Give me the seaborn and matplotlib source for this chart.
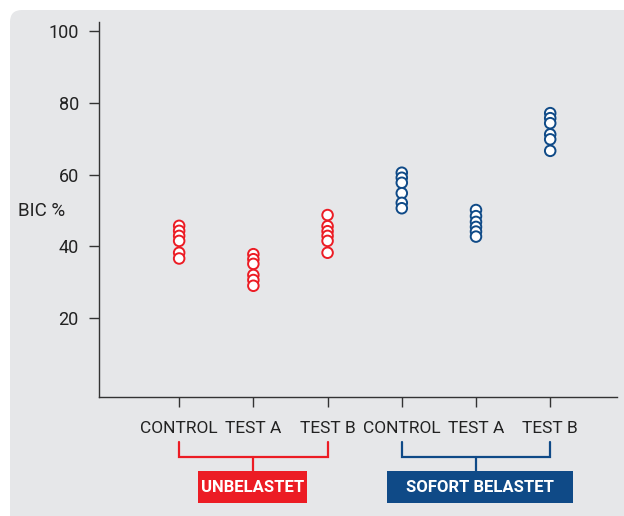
import matplotlib
matplotlib.use("Agg")
import matplotlib.pyplot as plt
import matplotlib.transforms as mtransforms
from matplotlib.patches import FancyBboxPatch, Rectangle
import seaborn as sns
import pandas as pd

# --- data ---
groups = ["UNBELASTET", "SOFORT BELASTET"]
conditions = ["CONTROL", "TEST A", "TEST B"]
unbelastet_control = [45.7, 44.3, 42.9, 41.5, 38.2, 36.6]
unbelastet_test_a = [37.8, 36.4, 35.1, 32.0, 30.6, 29.0]
unbelastet_test_b = [48.7, 45.6, 44.2, 42.9, 41.5, 38.2]
sofort_control = [60.5, 59.1, 57.7, 54.8, 52.1, 50.6]
sofort_test_a = [50.1, 48.4, 46.8, 45.4, 44.1, 42.7]
sofort_test_b = [77.1, 75.7, 74.3, 71.2, 69.8, 66.6]
y_ticks = [20, 40, 60, 80, 100]

RED = "#ec1c24"
BLUE = "#0f4a87"
BG = "#e6e7e9"
INK = "#333333"

series = {
    ("UNBELASTET", "CONTROL"): unbelastet_control,
    ("UNBELASTET", "TEST A"): unbelastet_test_a,
    ("UNBELASTET", "TEST B"): unbelastet_test_b,
    ("SOFORT BELASTET", "CONTROL"): sofort_control,
    ("SOFORT BELASTET", "TEST A"): sofort_test_a,
    ("SOFORT BELASTET", "TEST B"): sofort_test_b,
}
rows = []
for (g, c), vals in series.items():
    for v in vals:
        rows.append({"group": g, "condition": c, "slot": f"{g}|{c}", "bic": v})
df = pd.DataFrame(rows)
order = [f"{g}|{c}" for g in groups for c in conditions]

sns.set_theme(style="white")
plt.rcParams["font.family"] = ["Roboto", "DejaVu Sans"]

fig = plt.figure(figsize=(6.24, 5.16), dpi=100, facecolor="white")
W, H = 624, 516

# grey panel with rounded corner, behind everything
panel = FancyBboxPatch((10, -30), 650, H - 10 + 30, boxstyle="round,pad=0,rounding_size=12",
                       transform=None, facecolor=BG, edgecolor="none", zorder=-10)
fig.patches.append(panel)

ax = fig.add_axes([99 / W, 1 - 397 / H, (617 - 99) / W, (397 - 22) / H])
ax.set_facecolor("none")

sns.stripplot(data=df, x="slot", y="bic", hue="group", order=order,
              palette={"UNBELASTET": RED, "SOFORT BELASTET": BLUE},
              jitter=False, size=7.6, linewidth=1.4, legend=False, ax=ax, zorder=3)
for coll in ax.collections:
    fc = coll.get_facecolors()
    coll.set_edgecolors(fc)
    coll.set_facecolors("white")

ax.set_xlim(-1.08, 5.9)
ax.set_ylim(-2, 102.5)
ax.set_yticks(y_ticks)
ax.set_xticks(range(6))
ax.set_xticklabels([c for g in groups for c in conditions])
ax.set_xlabel("")
ax.set_ylabel("")
for side in ["top", "right"]:
    ax.spines[side].set_visible(False)
for side in ["left", "bottom"]:
    ax.spines[side].set_color(INK)
    ax.spines[side].set_linewidth(1.0)
ax.tick_params(axis="both", which="major", direction="out", length=7.5, width=1.0,
               color=INK, labelcolor="#222222", bottom=True, left=True)
ax.tick_params(axis="y", pad=7, labelsize=13)
ax.tick_params(axis="x", pad=10, labelsize=12.5)

fig.text(18 / W, 1 - 211 / H, "BIC %", ha="left", va="center", fontsize=13.5, color="#222222")

# brackets and group labels below the axis
trans = mtransforms.blended_transform_factory(ax.transData, fig.transFigure)
def fy(px):
    return 1 - px / H

for gi, (g, color) in enumerate(zip(groups, [RED, BLUE])):
    x0, x1 = gi * 3, gi * 3 + 2
    xm = gi * 3 + 1
    ax.plot([x0, x0, x1, x1], [fy(442), fy(457), fy(457), fy(442)], color=color,
            lw=1.6, transform=trans, clip_on=False, solid_joinstyle="miter")
    ax.plot([xm, xm], [fy(457), fy(471)], color=color, lw=1.6, transform=trans, clip_on=False)

boxes = [(198, 307, RED, "UNBELASTET"), (387, 573, BLUE, "SOFORT BELASTET")]
for left, right, color, label in boxes:
    fig.patches.append(Rectangle((left / W, fy(503)), (right - left) / W, (503 - 471) / H,
                                 transform=fig.transFigure, facecolor=color, edgecolor="none"))
    fig.text((left + right) / 2 / W, fy(487), label, ha="center", va="center",
             color="white", fontsize=12, fontweight="bold")

fig.savefig("out.png", dpi=100, facecolor="white")
